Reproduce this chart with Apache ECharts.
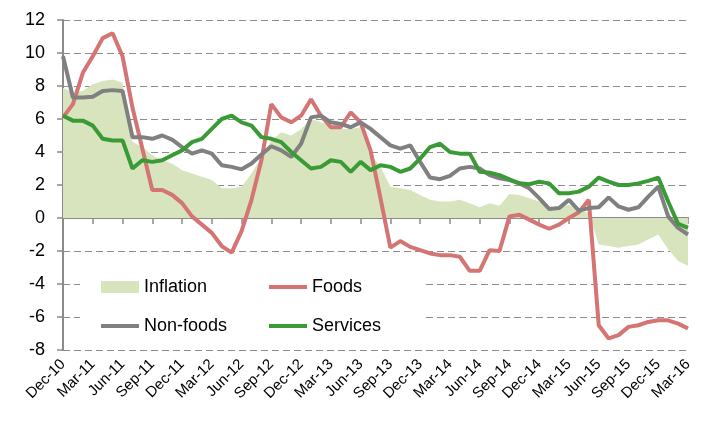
<!DOCTYPE html>
<html>
<head>
<meta charset="utf-8">
<script src="https://cdn.jsdelivr.net/npm/echarts@6/dist/echarts.min.js"></script>
<style>
  html, body { margin: 0; padding: 0; background: #fff; }
  #chart { width: 717px; height: 421px; }
</style>
</head>
<body>
<div id="chart"></div>
<script>
// monthly, Dec-10 .. Mar-16
const monthNames = ['Jan', 'Feb', 'Mar', 'Apr', 'May', 'Jun', 'Jul', 'Aug', 'Sep', 'Oct', 'Nov', 'Dec']
const categories = []
for (let k = 0; k < 64; k++) {
  const m = (11 + k) % 12
  const yy = 10 + Math.floor((11 + k) / 12)
  categories.push(monthNames[m] + '-' + yy)
}

const inflation = [7.9, 7.6, 7.7, 8.1, 8.3, 8.4, 8.2, 4.6, 4.3, 3.8,
  3.5, 3.3, 2.9, 2.7, 2.5, 2.3, 1.8, 1.8, 1.9, 2.7,
  3.7, 4.7, 5.2, 5.0, 5.4, 6.0, 5.8, 5.6, 5.4, 5.4,
  5.5, 3.9, 3.1, 1.9, 1.8, 1.7, 1.4, 1.1, 1.0, 1.0,
  1.1, 0.9, 0.65, 0.9, 0.75, 1.45, 1.4, 1.2, 1.0, 0.65,
  0.65, 0.8, 0.5, 0.3, -1.6, -1.7, -1.8, -1.7, -1.6, -1.3,
  -1.0, -1.9, -2.6, -2.9]

const foods = [6.1, 6.9, 8.8, 9.8, 10.9, 11.2, 9.8, 6.7, 4.2, 1.7,
  1.7, 1.4, 0.9, 0.1, -0.4, -0.9, -1.7, -2.1, -0.8, 1.1,
  3.5, 6.9, 6.1, 5.8, 6.2, 7.2, 6.2, 5.5, 5.5, 6.4,
  5.8, 4.1, 1.2, -1.8, -1.4, -1.75, -1.95, -2.15, -2.25, -2.25,
  -2.35, -3.2, -3.2, -1.95, -2.0, 0.1, 0.2, -0.1, -0.4, -0.65,
  -0.4, 0.0, 0.35, 1.1, -6.5, -7.3, -7.1, -6.6, -6.5, -6.3,
  -6.2, -6.2, -6.4, -6.7]

const nonFoods = [9.8, 7.3, 7.3, 7.35, 7.7, 7.75, 7.7, 4.9, 4.9, 4.8,
  5.0, 4.75, 4.3, 3.9, 4.1, 3.9, 3.2, 3.1, 2.95, 3.3,
  3.85, 4.35, 4.1, 3.7, 4.5, 6.1, 6.2, 5.8, 5.7, 5.5,
  5.8, 5.4, 4.9, 4.4, 4.2, 4.4, 3.4, 2.45, 2.35, 2.55,
  3.0, 3.1, 3.0, 2.6, 2.4, 2.3, 2.1, 1.8, 1.2, 0.55,
  0.6, 1.1, 0.45, 0.6, 0.65, 1.25, 0.7, 0.5, 0.65, 1.3,
  1.9, 0.1, -0.6, -1.0]

const services = [6.2, 5.9, 5.9, 5.6, 4.8, 4.7, 4.7, 3.0, 3.5, 3.4,
  3.5, 3.8, 4.1, 4.6, 4.8, 5.4, 6.0, 6.2, 5.8, 5.6,
  4.9, 4.8, 4.6, 4.0, 3.5, 3.0, 3.1, 3.5, 3.4, 2.8,
  3.4, 2.9, 3.2, 3.1, 2.8, 3.0, 3.6, 4.3, 4.5, 4.0,
  3.9, 3.9, 2.8, 2.75, 2.6, 2.35, 2.1, 2.05, 2.2, 2.1,
  1.5, 1.5, 1.6, 1.9, 2.45, 2.2, 2.0, 2.0, 2.1, 2.25,
  2.45, 1.0, -0.35, -0.6]

const FONT = "'Liberation Sans', Arial, sans-serif"
const AXIS_GREY = '#8a8a8a'

const colors = {
  inflation: '#d7e4bd',
  foods: '#d47473',
  nonFoods: '#808080',
  services: '#3a9a35'
}

const legendText = { fontFamily: FONT, fontSize: 18, color: '#000', lineHeight: 20 }

function lineSeries(name, data, color) {
  return {
    name: name,
    type: 'line',
    data: data,
    symbol: 'none',
    lineStyle: { color: color, width: 4 },
    itemStyle: { color: color }
  }
}

// one legend per entry, so each icon gets its own size
function legendEntry(name, left, top, iconHeight) {
  return {
    data: [{ name: name, icon: 'rect' }],
    left: left,
    top: top,
    padding: 0,
    itemWidth: 38,
    itemHeight: iconHeight,
    textStyle: legendText
  }
}

var chart = echarts.init(document.getElementById('chart'), null, { renderer: 'canvas' })

var option = {
  animation: false,
  backgroundColor: '#fff',
  textStyle: { fontFamily: FONT },
  grid: { left: 63, right: 29, top: 20, bottom: 71 },
  legend: [
    {
      // first entry also paints the white box behind the whole legend
      data: [{ name: 'Inflation', icon: 'rect' }],
      left: 80,
      top: 263,
      padding: [14, 216, 50, 21],
      backgroundColor: '#fff',
      itemWidth: 38,
      itemHeight: 12,
      textStyle: legendText
    },
    legendEntry('Foods', 269, 277, 4),
    legendEntry('Non-foods', 101, 316, 4),
    legendEntry('Services', 269, 316, 4)
  ],
  xAxis: [
    {
      // axis line sitting on zero, ticks only
      type: 'category',
      data: categories,
      boundaryGap: false,
      axisLine: { onZero: true, lineStyle: { color: AXIS_GREY, width: 2 } },
      axisTick: { show: true, interval: 2, length: 6, lineStyle: { color: AXIS_GREY, width: 1.5 } },
      axisLabel: { show: false },
      splitLine: { show: false }
    },
    {
      // labels at the bottom of the plot
      type: 'category',
      data: categories,
      boundaryGap: false,
      position: 'bottom',
      axisLine: { show: false, onZero: false },
      axisTick: { show: false },
      axisLabel: {
        interval: 2,
        rotate: 45,
        margin: 12,
        fontSize: 15,
        color: '#000',
        fontFamily: FONT
      },
      splitLine: { show: false }
    }
  ],
  yAxis: {
    type: 'value',
    min: -8,
    max: 12,
    interval: 2,
    axisLine: { show: true, lineStyle: { color: AXIS_GREY, width: 2 } },
    axisTick: { show: true, length: 6, lineStyle: { color: AXIS_GREY, width: 1.5 } },
    axisLabel: { fontSize: 18, color: '#000', margin: 18, fontFamily: FONT },
    splitLine: { show: true, lineStyle: { color: '#8c8c8c', type: [7, 4], width: 1.2 } }
  },
  series: [
    {
      name: 'Inflation',
      type: 'line',
      data: inflation,
      symbol: 'none',
      lineStyle: { width: 0, color: colors.inflation },
      itemStyle: { color: colors.inflation },
      areaStyle: { color: colors.inflation, opacity: 1 },
      z: 1
    },
    lineSeries('Foods', foods, colors.foods),
    lineSeries('Non-foods', nonFoods, colors.nonFoods),
    lineSeries('Services', services, colors.services)
  ]
}

chart.setOption(option)
</script>
</body>
</html>
